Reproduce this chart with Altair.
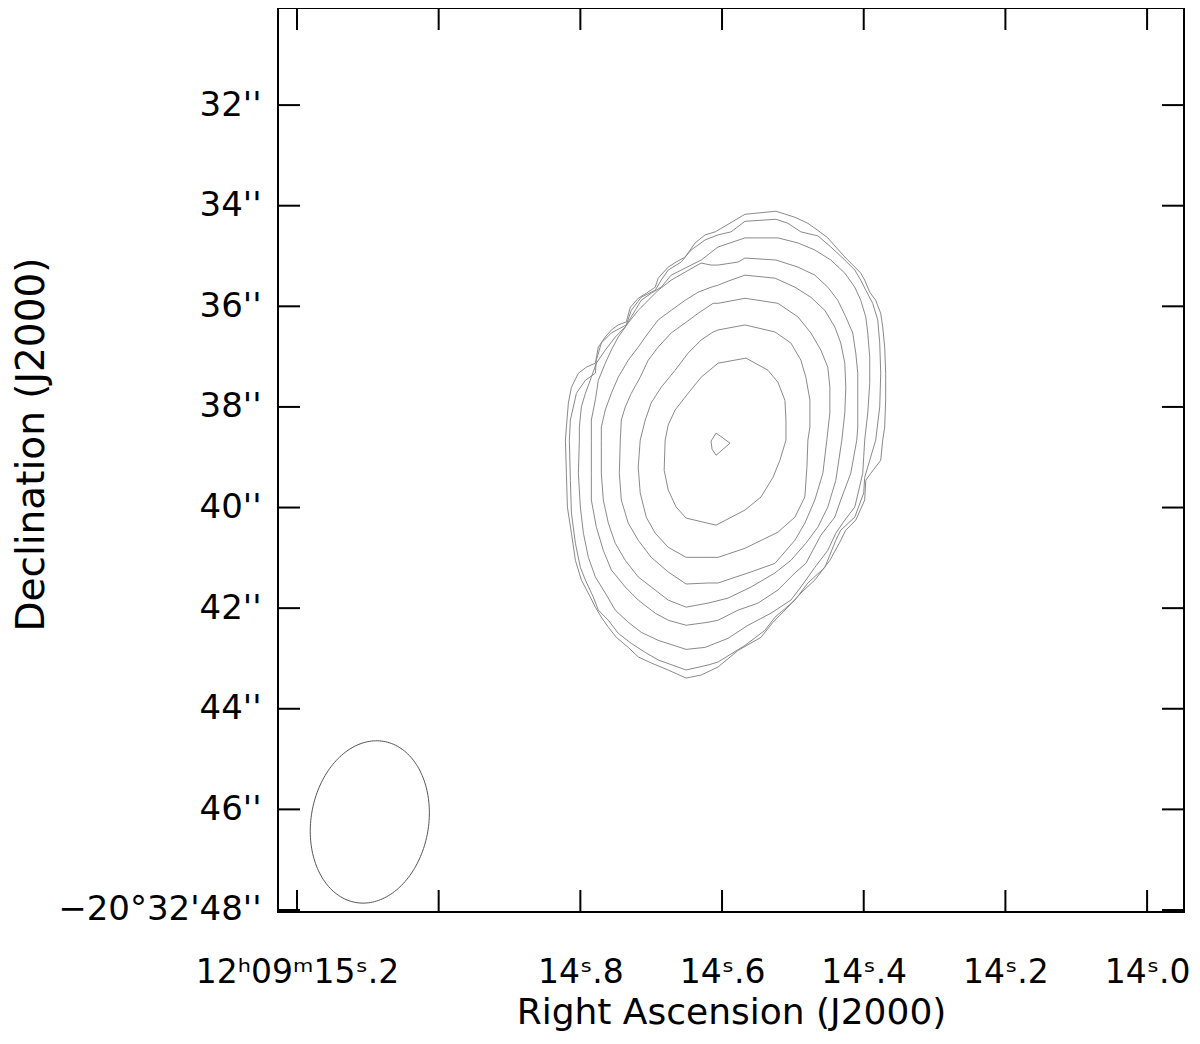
import json
import altair as alt
import numpy as np
import pandas as pd

FONT = "DejaVu Sans"

# Contour vertices: (RA seconds of 12h09m, Dec arcsec of -20d32'), outermost first
c1 = [(14.6098,34.52),(14.5915,34.37),(14.5676,34.17),(14.5239,34.11),(14.4971,34.23),(14.4788,34.35),
      (14.4647,34.49),(14.4507,34.64),(14.4394,34.82),(14.4267,35.02),(14.4126,35.22),(14.4042,35.34),
      (14.3986,35.48),(14.3915,35.72),(14.3831,35.88),(14.3760,36.14),(14.3732,36.41),(14.3704,36.81),
      (14.3690,37.33),(14.3690,37.86),(14.3704,38.40),(14.3732,38.66),(14.3760,39.06),(14.3901,39.32),
      (14.3971,39.46),(14.3986,39.85),(14.4112,40.25),(14.4253,40.45),(14.4338,40.69),(14.4478,41.05),
      (14.4690,41.44),(14.4887,41.70),(14.5070,41.98),(14.5281,42.28),(14.5450,42.58),(14.5774,42.84),
      (14.6056,43.17),(14.6295,43.33),(14.6507,43.39),(14.6760,43.23),(14.7000,43.09),(14.7183,42.97),
      (14.7324,42.78),(14.7493,42.58),(14.7605,42.38),(14.7704,42.18),(14.7788,41.98),(14.7859,41.78),
      (14.7986,41.44),(14.8070,41.05),(14.8126,40.51),(14.8183,39.99),(14.8197,39.32),(14.8211,38.66),
      (14.8197,38.40),(14.8169,37.92),(14.8126,37.61),(14.8028,37.33),(14.7915,37.21),(14.7788,37.13),
      (14.7746,36.81),(14.7648,36.61),(14.7563,36.47),(14.7465,36.37),(14.7352,36.31),(14.7295,36.02),
      (14.7183,35.84),(14.7070,35.74),(14.6943,35.62),(14.6901,35.44),(14.6760,35.22),(14.6648,35.12),
      (14.6521,35.02),(14.6380,34.74),(14.6239,34.58),(14.6098,34.52)]
c2 = [(14.6056,34.58),(14.5873,34.52),(14.5676,34.31),(14.5239,34.27),(14.5070,34.35),(14.4887,34.52),
      (14.4647,34.60),(14.4464,34.82),(14.4267,35.08),(14.4126,35.28),(14.4042,35.48),(14.3971,35.68),
      (14.3873,35.94),(14.3802,36.27),(14.3774,36.73),(14.3760,37.33),(14.3774,38.00),(14.3831,38.66),
      (14.3915,39.06),(14.3986,39.40),(14.4000,39.71),(14.4126,40.19),(14.4324,40.45),(14.4394,40.65),
      (14.4549,41.19),(14.4788,41.50),(14.4971,41.84),(14.5253,42.18),(14.5394,42.44),(14.5676,42.74),
      (14.6056,43.07),(14.6197,43.13),(14.6507,43.23),(14.6901,43.03),(14.7084,42.88),(14.7281,42.70),
      (14.7465,42.50),(14.7605,42.24),(14.7746,42.04),(14.7817,41.78),(14.7929,41.44),(14.8000,41.19),
      (14.8070,40.71),(14.8126,40.11),(14.8141,39.46),(14.8155,38.66),(14.8141,38.26),(14.8056,37.73),
      (14.7929,37.47),(14.7788,37.33),(14.7774,37.07),(14.7704,36.73),(14.7563,36.53),(14.7352,36.37),
      (14.7281,36.08),(14.7141,35.82),(14.6943,35.68),(14.6859,35.48),(14.6760,35.28),(14.6577,35.12),
      (14.6436,34.88),(14.6239,34.68),(14.6056,34.58)]
c3 = [(14.6056,34.82),(14.5676,34.64),(14.5211,34.64),(14.4929,34.74),(14.4690,34.88),(14.4464,35.08),
      (14.4267,35.34),(14.4126,35.62),(14.4042,35.88),(14.3971,36.21),(14.3943,36.53),(14.3915,37.01),
      (14.3915,37.53),(14.3943,38.12),(14.3986,38.66),(14.4014,39.32),(14.4126,39.99),(14.4267,40.25),
      (14.4394,40.51),(14.4507,40.85),(14.4690,41.19),(14.4887,41.58),(14.5028,41.84),(14.5309,42.10),
      (14.5633,42.34),(14.5915,42.60),(14.6239,42.78),(14.6507,42.82),(14.6901,42.64),(14.7141,42.48),
      (14.7324,42.28),(14.7507,42.04),(14.7648,41.70),(14.7788,41.38),(14.7887,40.99),(14.7957,40.51),
      (14.8000,39.99),(14.8028,39.32),(14.8014,38.66),(14.8014,38.40),(14.7986,38.00),(14.7929,37.73),
      (14.7845,37.41),(14.7774,37.13),(14.7648,36.87),(14.7507,36.61),(14.7366,36.41),(14.7281,36.21),
      (14.7141,35.88),(14.7000,35.74),(14.6859,35.62),(14.6718,35.38),(14.6521,35.24),(14.6295,35.08),
      (14.6056,34.82)]
c4 = [(14.6056,35.18),(14.5774,35.12),(14.5676,35.04),(14.5239,35.08),(14.4929,35.22),(14.4690,35.38),
      (14.4507,35.62),(14.4366,35.88),(14.4253,36.21),(14.4155,36.53),(14.4112,36.93),(14.4084,37.33),
      (14.4084,37.86),(14.4084,38.40),(14.4098,38.66),(14.4183,39.32),(14.4324,39.85),(14.4408,40.19),
      (14.4605,40.55),(14.4817,41.11),(14.4971,41.30),(14.5211,41.64),(14.5493,41.90),(14.5774,42.04),
      (14.6056,42.24),(14.6197,42.28),(14.6507,42.34),(14.6760,42.24),(14.6943,42.10),(14.7183,41.84),
      (14.7366,41.58),(14.7563,41.24),(14.7676,40.85),(14.7774,40.39),(14.7845,39.85),(14.7845,39.32),
      (14.7845,38.66),(14.7845,38.26),(14.7788,37.86),(14.7746,37.47),(14.7648,37.13),(14.7563,36.87),
      (14.7465,36.61),(14.7324,36.33),(14.7183,36.08),(14.7042,35.88),(14.6901,35.68),(14.6718,35.48),
      (14.6521,35.32),(14.6295,35.14),(14.6155,35.18),(14.6056,35.18)]
c5 = [(14.6056,35.58),(14.5915,35.50),(14.5676,35.38),(14.5253,35.44),(14.4971,35.62),(14.4746,35.82),
      (14.4549,36.08),(14.4408,36.41),(14.4324,36.73),(14.4267,37.13),(14.4253,37.61),(14.4267,38.12),
      (14.4309,38.66),(14.4394,39.46),(14.4507,39.99),(14.4647,40.39),(14.4817,40.71),(14.5028,41.05),
      (14.5253,41.30),(14.5591,41.58),(14.5915,41.80),(14.6197,41.90),(14.6507,41.98),(14.6760,41.84),
      (14.6943,41.64),(14.7183,41.38),(14.7366,41.05),(14.7507,40.71),(14.7605,40.31),(14.7676,39.85),
      (14.7704,39.32),(14.7704,38.66),(14.7704,38.40),(14.7648,38.06),(14.7563,37.73),(14.7465,37.41),
      (14.7324,37.07),(14.7183,36.81),(14.7042,36.53),(14.6901,36.27),(14.6718,36.08),(14.6521,35.88),
      (14.6338,35.72),(14.6155,35.62),(14.6056,35.58)]
c6 = [(14.6056,35.94),(14.5676,35.84),(14.5211,35.94),(14.4929,36.21),(14.4746,36.53),(14.4605,36.87),
      (14.4507,37.21),(14.4478,37.61),(14.4478,38.12),(14.4521,38.66),(14.4577,39.32),(14.4690,39.85),
      (14.4831,40.31),(14.4971,40.65),(14.5253,41.11),(14.5591,41.28),(14.6056,41.50),(14.6197,41.50),
      (14.6507,41.52),(14.6760,41.28),(14.7000,40.99),(14.7183,40.65),(14.7324,40.31),(14.7422,39.85),
      (14.7450,39.32),(14.7436,38.66),(14.7422,38.26),(14.7366,38.00),(14.7281,37.73),(14.7155,37.41),
      (14.7042,37.07),(14.6901,36.81),(14.6718,36.53),(14.6521,36.33),(14.6338,36.14),(14.6126,35.94),
      (14.6056,35.94)]
c7 = [(14.6056,36.47),(14.5676,36.37),(14.5253,36.51),(14.5028,36.73),(14.4887,37.07),(14.4817,37.41),
      (14.4760,37.86),(14.4760,38.40),(14.4788,38.66),(14.4802,39.20),(14.4831,39.79),(14.4971,40.19),
      (14.5211,40.49),(14.5676,40.81),(14.6056,40.99),(14.6197,40.99),(14.6507,40.99),(14.6760,40.79),
      (14.6943,40.51),(14.7070,40.19),(14.7155,39.71),(14.7183,39.20),(14.7155,38.66),(14.7084,38.26),
      (14.7000,37.92),(14.6859,37.61),(14.6662,37.27),(14.6479,36.93),(14.6295,36.67),(14.6126,36.51),
      (14.6056,36.47)]
c8 = [(14.6056,37.13),(14.5662,37.03),(14.5352,37.27),(14.5211,37.51),(14.5112,37.87),(14.5098,38.26),
      (14.5098,38.66),(14.5183,39.06),(14.5281,39.40),(14.5450,39.79),(14.5676,40.05),(14.6084,40.35),
      (14.6507,40.21),(14.6648,39.99),(14.6760,39.65),(14.6817,39.26),(14.6803,38.66),(14.6760,38.36),
      (14.6662,38.06),(14.6479,37.73),(14.6295,37.41),(14.6056,37.13)]
peak = [(14.6084,38.52),(14.5887,38.72),(14.6084,38.96),(14.6141,38.84),(14.6155,38.68),(14.6084,38.52)]

contours = [c1, c2, c3, c4, c5, c6, c7, c8, peak]

# Synthesized beam (FWHM arcsec, position angle deg) and its plotted centre
beam_center_ra = 15.0972
beam_center_dec = 46.25
beam_major = 3.25
beam_minor = 2.33
beam_pa = -9.8

ra_ticks = [15.2, 15.0, 14.8, 14.6, 14.4, 14.2, 14.0]
ra_labels = ["12ʰ09ᵐ15ˢ.2", "", "14ˢ.8", "14ˢ.6", "14ˢ.4", "14ˢ.2", "14ˢ.0"]
dec_ticks = [32, 34, 36, 38, 40, 42, 44, 46, 48]
dec_labels = ["32''", "34''", "36''", "38''", "40''", "42''", "44''", "46''", "−20°32'48''"]

ra_domain = [13.9479, 15.2268]
dec_domain = [30.07, 48.04]

W, H = 906, 904

rows = []
for k, c in enumerate(contours):
    for i, (ra, dec) in enumerate(c):
        rows.append({"ra": ra, "dec": dec, "level": k, "i": i})
df = pd.DataFrame(rows)

t = np.linspace(0, 2 * np.pi, 181)
a, b = beam_major / 2, beam_minor / 2
pa = np.radians(beam_pa)
d_east = a * np.cos(t) * np.sin(pa) + b * np.sin(t) * np.cos(pa)
d_north = a * np.cos(t) * np.cos(pa) - b * np.sin(t) * np.sin(pa)
cosd = np.cos(np.radians(20 + 32 / 60 + 46 / 3600))
beam_df = pd.DataFrame({
    "ra": beam_center_ra + d_east / (15 * cosd),
    "dec": beam_center_dec - d_north,
    "i": np.arange(len(t)),
})


def lookup_expr(vals, labs):
    expr = "''"
    for v, lab in reversed(list(zip(vals, labs))):
        expr = f"abs(datum.value - {v}) < 0.001 ? {json.dumps(lab, ensure_ascii=False)} : ({expr})"
    return expr


xscale = alt.Scale(domain=ra_domain, reverse=True, zero=False, nice=False)
yscale = alt.Scale(domain=dec_domain, reverse=True, zero=False, nice=False)

x_axis = alt.Axis(
    values=ra_ticks, labelExpr=lookup_expr(ra_ticks, ra_labels),
    ticks=False, tickSize=0, domain=False, grid=False,
    labelFont=FONT, labelFontSize=33, labelColor="black", labelPadding=70,
    labelBaseline="alphabetic", labelOverlap=False, labelFlush=False, labelLimit=0,
    title="Right Ascension (J2000)", titleFont=FONT, titleFontSize=36,
    titleFontWeight="normal", titleColor="black", titleBaseline="alphabetic", titleY=111,
)
y_axis = alt.Axis(
    values=dec_ticks, labelExpr=lookup_expr(dec_ticks, dec_labels),
    ticks=False, tickSize=0, domain=False, grid=False,
    labelFont=FONT, labelFontSize=34, labelColor="black", labelPadding=17,
    labelBaseline="middle", labelOverlap=False, labelFlush=False, labelLimit=0,
    title="Declination (J2000)", titleFont=FONT, titleFontSize=39,
    titleFontWeight="normal", titleColor="black", titleBaseline="alphabetic",
    titleX=-235, titleY=436, titleLimit=0,
)

contour_layer = alt.Chart(df).mark_line(color="#8a8a8a", strokeWidth=1).encode(
    x=alt.X("ra:Q", scale=xscale, axis=x_axis),
    y=alt.Y("dec:Q", scale=yscale, axis=y_axis),
    detail="level:N",
    order="i:Q",
)

beam_layer = alt.Chart(beam_df).mark_line(color="#555555", strokeWidth=1).encode(
    x="ra:Q",
    y="dec:Q",
    order="i:Q",
)

ra_df = pd.DataFrame({"ra": ra_ticks})
dec_df = pd.DataFrame({"dec": dec_ticks})
TL = 22
tick_style = dict(color="black", strokeWidth=2)

bottom_ticks = alt.Chart(ra_df).mark_rule(**tick_style).encode(
    x="ra:Q", y=alt.value(H), y2=alt.value(H - TL))
top_ticks = alt.Chart(ra_df).mark_rule(**tick_style).encode(
    x="ra:Q", y=alt.value(0), y2=alt.value(TL))
left_ticks = alt.Chart(dec_df).mark_rule(**tick_style).encode(
    y="dec:Q", x=alt.value(0), x2=alt.value(TL))
right_ticks = alt.Chart(dec_df).mark_rule(**tick_style).encode(
    y="dec:Q", x=alt.value(W - TL), x2=alt.value(W))

chart = alt.layer(
    contour_layer, beam_layer, bottom_ticks, top_ticks, left_ticks, right_ticks
).properties(
    width=W, height=H,
    autosize=alt.AutoSizeParams(type="none"),
    padding={"left": 270, "top": 0, "right": 8, "bottom": 120},
    background="white",
).configure_view(stroke="black", strokeWidth=2)

chart.save("out.html", embed_options={"renderer": "svg", "actions": False})
